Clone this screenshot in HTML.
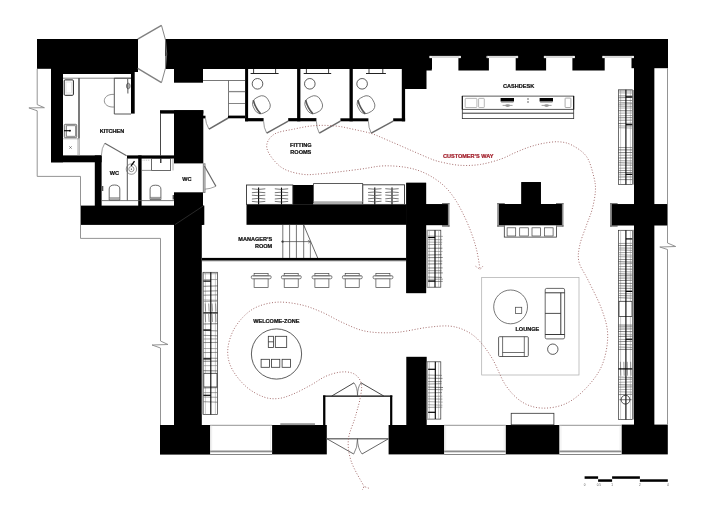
<!DOCTYPE html>
<html><head><meta charset="utf-8"><title>Floor plan</title>
<style>html,body{margin:0;padding:0;background:#fff;}svg{display:block;will-change:transform;}</style>
</head><body>
<svg width="727" height="514" viewBox="0 0 727 514">
<rect width="727" height="514" fill="#fff"/>
<g fill="#000">
<rect x="37.0" y="39.0" width="101.0" height="29.8" fill="#000" />
<rect x="51.0" y="39.0" width="80.0" height="35.0" fill="#000" />
<rect x="131.0" y="39.0" width="7.0" height="33.0" fill="#000" />
<rect x="51.0" y="39.0" width="12.0" height="123.3" fill="#000" />
<rect x="51.0" y="155.4" width="50.6" height="6.9" fill="#000" />
<rect x="94.8" y="155.4" width="6.8" height="50.6" fill="#000" />
<rect x="131.0" y="70.0" width="3.7" height="43.6" fill="#000" />
<rect x="165.5" y="39.0" width="502.5" height="17.0" fill="#000" />
<rect x="165.5" y="39.0" width="266.5" height="30.0" fill="#000" />
<rect x="174.0" y="68.0" width="29.0" height="14.7" fill="#000" />
<rect x="405.0" y="68.0" width="21.5" height="21.0" fill="#000" />
<rect x="426.0" y="55.0" width="5.8" height="15.5" fill="#000" />
<rect x="458.4" y="55.0" width="30.5" height="15.5" fill="#000" />
<rect x="515.7" y="55.0" width="30.4" height="15.5" fill="#000" />
<rect x="572.4" y="55.0" width="32.3" height="15.5" fill="#000" />
<rect x="631.5" y="39.0" width="36.5" height="29.2" fill="#000" />
<rect x="634.0" y="68.0" width="20.2" height="357.0" fill="#000" />
<rect x="611.8" y="204.2" width="55.4" height="21.1" fill="#000" />
<rect x="160.0" y="425.0" width="50.1" height="29.6" fill="#000" />
<rect x="272.1" y="425.0" width="54.7" height="29.4" fill="#000" />
<rect x="388.6" y="425.0" width="55.5" height="29.4" fill="#000" />
<rect x="505.8" y="425.0" width="53.5" height="29.4" fill="#000" />
<rect x="621.7" y="424.6" width="46.1" height="29.8" fill="#000" />
<rect x="160.0" y="110.2" width="43.3" height="3.4" fill="#000" />
<line x1="160.5" y1="113.0" x2="160.5" y2="155.5" stroke="#333" stroke-width="0.9" />
<rect x="174.0" y="110.2" width="29.3" height="53.2" fill="#000" />
<rect x="203.0" y="115.7" width="2.5" height="2.7" fill="#000" />
<rect x="174.0" y="192.3" width="29.0" height="32.7" fill="#000" />
<rect x="174.0" y="224.0" width="27.8" height="201.0" fill="#000" />
<rect x="80.8" y="205.6" width="123.5" height="19.3" fill="#000" />
<rect x="127.0" y="155.4" width="47.0" height="3.2" fill="#000" />
<rect x="138.2" y="155.4" width="3.4" height="50.6" fill="#000" />
<rect x="245.1" y="69.0" width="3.0" height="52.3" fill="#000" />
<rect x="297.1" y="69.0" width="3.3" height="52.3" fill="#000" />
<rect x="349.5" y="69.0" width="3.3" height="52.3" fill="#000" />
<rect x="401.8" y="69.0" width="3.3" height="52.3" fill="#000" />
<rect x="228.0" y="115.6" width="17.1" height="2.7" fill="#000" />
<rect x="245.1" y="118.1" width="18.5" height="3.2" fill="#000" />
<rect x="288.2" y="118.1" width="28.2" height="3.2" fill="#000" />
<rect x="340.4" y="118.3" width="28.0" height="3.0" fill="#000" />
<rect x="393.2" y="118.3" width="11.9" height="3.0" fill="#000" />
<rect x="246.5" y="204.3" width="160.2" height="20.5" fill="#000" />
<rect x="292.8" y="185.0" width="20.4" height="19.6" fill="#000" />
<rect x="202.0" y="257.9" width="204.5" height="2.7" fill="#000" />
<rect x="406.3" y="182.8" width="19.8" height="110.3" fill="#000" />
<rect x="426.0" y="204.2" width="21.8" height="20.9" fill="#000" />
<rect x="406.3" y="356.8" width="20.4" height="68.2" fill="#000" />
<rect x="521.4" y="182.1" width="19.4" height="42.9" fill="#000" />
<rect x="499.0" y="204.0" width="62.8" height="21.0" fill="#000" />
</g>
<line x1="175.0" y1="224.6" x2="203.8" y2="205.6" stroke="#444" stroke-width="0.6" />
<rect x="429.6" y="55.9" width="31.2" height="2.2" fill="#fff" />
<line x1="431.8" y1="57.0" x2="458.4" y2="57.0" stroke="#aaa" stroke-width="0.9" />
<rect x="429.8" y="56.1" width="1.9" height="1.8" fill="#fff" stroke="#bbb" stroke-width="0.3"/>
<rect x="458.7" y="56.1" width="1.9" height="1.8" fill="#fff" stroke="#bbb" stroke-width="0.3"/>
<rect x="486.7" y="55.9" width="31.4" height="2.2" fill="#fff" />
<line x1="488.9" y1="57.0" x2="515.7" y2="57.0" stroke="#aaa" stroke-width="0.9" />
<rect x="486.9" y="56.1" width="1.9" height="1.8" fill="#fff" stroke="#bbb" stroke-width="0.3"/>
<rect x="516.0" y="56.1" width="1.9" height="1.8" fill="#fff" stroke="#bbb" stroke-width="0.3"/>
<rect x="543.9" y="55.9" width="30.9" height="2.2" fill="#fff" />
<line x1="546.1" y1="57.0" x2="572.4" y2="57.0" stroke="#aaa" stroke-width="0.9" />
<rect x="544.1" y="56.1" width="1.9" height="1.8" fill="#fff" stroke="#bbb" stroke-width="0.3"/>
<rect x="572.7" y="56.1" width="1.9" height="1.8" fill="#fff" stroke="#bbb" stroke-width="0.3"/>
<rect x="602.5" y="55.9" width="31.4" height="2.2" fill="#fff" />
<line x1="604.7" y1="57.0" x2="631.5" y2="57.0" stroke="#aaa" stroke-width="0.9" />
<rect x="602.7" y="56.1" width="1.9" height="1.8" fill="#fff" stroke="#bbb" stroke-width="0.3"/>
<rect x="631.8" y="56.1" width="1.9" height="1.8" fill="#fff" stroke="#bbb" stroke-width="0.3"/>
<line x1="210.1" y1="425.3" x2="272.1" y2="425.3" stroke="#888" stroke-width="0.9" />
<rect x="210.1" y="450.5" width="62.0" height="1.8" fill="#8c8c8c" />
<line x1="210.1" y1="454.5" x2="272.1" y2="454.5" stroke="#777" stroke-width="0.9" />
<line x1="211.7" y1="425.3" x2="211.7" y2="450.4" stroke="#ddd" stroke-width="0.5" />
<line x1="270.5" y1="425.3" x2="270.5" y2="450.4" stroke="#ddd" stroke-width="0.5" />
<line x1="444.1" y1="425.3" x2="505.8" y2="425.3" stroke="#888" stroke-width="0.9" />
<rect x="444.1" y="450.5" width="61.7" height="1.8" fill="#8c8c8c" />
<line x1="444.1" y1="454.5" x2="505.8" y2="454.5" stroke="#777" stroke-width="0.9" />
<line x1="445.7" y1="425.3" x2="445.7" y2="450.4" stroke="#ddd" stroke-width="0.5" />
<line x1="504.2" y1="425.3" x2="504.2" y2="450.4" stroke="#ddd" stroke-width="0.5" />
<line x1="559.3" y1="425.3" x2="621.7" y2="425.3" stroke="#888" stroke-width="0.9" />
<rect x="559.3" y="450.5" width="62.4" height="1.8" fill="#8c8c8c" />
<line x1="559.3" y1="454.5" x2="621.7" y2="454.5" stroke="#777" stroke-width="0.9" />
<line x1="560.9" y1="425.3" x2="560.9" y2="450.4" stroke="#ddd" stroke-width="0.5" />
<line x1="620.1" y1="425.3" x2="620.1" y2="450.4" stroke="#ddd" stroke-width="0.5" />
<g fill="none" stroke="#888" stroke-width="0.9">
<path d="M37.2,68.8 V104.6 L44.4,107.7 L28.9,107.9 L37.2,110.8 V176.4 H80.5 V238.4 H160.5 V341 L168,344.5 L152,345 L160.5,348 V425"/>
<path d="M667.5,68.2 V243 L675.7,246.5 L659.8,247 L667.5,249.5 V424.6"/>
</g>
<g fill="none" stroke="#333" stroke-width="0.8">
<line x1="63.0" y1="78.2" x2="131.0" y2="78.2" stroke="#777" stroke-width="0.9" />
<line x1="79.0" y1="78.2" x2="79.0" y2="138.4" stroke="#222" stroke-width="1.2" />
<line x1="78.0" y1="138.4" x2="78.0" y2="155.4" stroke="#888" stroke-width="0.7" />
<line x1="79.3" y1="138.4" x2="79.3" y2="155.4" stroke="#888" stroke-width="0.7" />
<rect x="64.2" y="79.9" width="9.2" height="15.4" rx="1" stroke="#222" stroke-width="1"/>
<rect x="66" y="82" width="5.5" height="11" stroke="#ccc" stroke-width="0.5"/>
<rect x="64.3" y="124.3" width="12.4" height="13.4" rx="1" stroke="#555" stroke-width="0.8" fill="#ddd"/>
<rect x="66.6" y="125.8" width="8.9" height="10.4" stroke="#555" stroke-width="0.6" fill="#fff"/>
<line x1="64.0" y1="130.7" x2="70.0" y2="130.7" stroke="#000" stroke-width="1.1" />
<circle cx="70" cy="130.7" r="0.9" fill="#000" stroke="none"/>
<line x1="63.2" y1="138.8" x2="79.0" y2="138.8" stroke="#888" stroke-width="0.6" />
<line x1="69.3" y1="146.3" x2="71.7" y2="148.7" stroke="#444" stroke-width="0.6" />
<line x1="71.7" y1="146.3" x2="69.3" y2="148.7" stroke="#444" stroke-width="0.6" />
<path d="M131,78.2 H114.3 V114 H131" stroke="#444" stroke-width="0.9"/>
<path d="M114.3,94.4 C101,93.5 101,108 114.3,107" stroke="#777" stroke-width="0.8"/>
<ellipse cx="128.3" cy="86" rx="1.8" ry="2.8" stroke="#555" stroke-width="0.8" fill="#ccc"/>
<line x1="127.7" y1="79.0" x2="127.9" y2="93.5" stroke="#444" stroke-width="0.9" />
</g>
<g fill="none" stroke="#666" stroke-width="1.1">
<path d="M126.6,155.7 L104.8,143.2"/>
<path d="M104.8,143.2 Q101.5,148 101.4,155.5" stroke="#777" stroke-width="0.7"/>
</g>
<line x1="127.3" y1="158.0" x2="127.3" y2="200.5" stroke="#444" stroke-width="0.9" />
<circle cx="131.4" cy="169.1" r="5.2" fill="none" stroke="#666" stroke-width="0.7"/>
<circle cx="131.4" cy="169.1" r="2.6" fill="none" stroke="#666" stroke-width="0.7"/>
<circle cx="131.4" cy="169.1" r="0.7" fill="#333"/>
<line x1="131.1" y1="165.9" x2="134.5" y2="161.2" stroke="#000" stroke-width="1.3" />
<line x1="101.6" y1="200.6" x2="174.0" y2="200.6" stroke="#555" stroke-width="0.8" />
<rect x="101.6" y="186.0" width="1.7" height="5.0" fill="#555" />
<path d="M109.2,200.0 V189.0 Q109.2,185.0 114.5,185.0 Q119.8,185.0 119.8,189.0 V200.0 Z" fill="#fff" stroke="#444" stroke-width="0.8"/>
<line x1="109.2" y1="197.8" x2="119.8" y2="197.8" stroke="#666" stroke-width="0.7" />
<line x1="109.7" y1="198.9" x2="119.3" y2="198.9" stroke="#999" stroke-width="1.2" />
<path d="M150.1,199.6 V189.2 Q150.1,185.2 155.5,185.2 Q160.9,185.2 160.9,189.2 V199.6 Z" fill="#fff" stroke="#444" stroke-width="0.8"/>
<line x1="150.1" y1="197.4" x2="160.9" y2="197.4" stroke="#666" stroke-width="0.7" />
<line x1="150.6" y1="198.5" x2="160.4" y2="198.5" stroke="#999" stroke-width="1.2" />
<g fill="none" stroke="#444" stroke-width="0.8">
<rect x="151.6" y="158.6" width="19" height="11.8"/>
<line x1="141.6" y1="170.4" x2="151.6" y2="170.4" stroke="#666" stroke-width="0.7" />
<line x1="173.0" y1="158.6" x2="173.0" y2="170.4" stroke="#999" stroke-width="0.8" />
<line x1="160.8" y1="158.6" x2="160.8" y2="163.0" stroke="#000" stroke-width="1.1" />
<line x1="142.5" y1="160.2" x2="150.0" y2="160.2" stroke="#999" stroke-width="0.6" stroke-dasharray="1,0.8"/>
</g>
<rect x="172.6" y="195.0" width="1.4" height="4.5" fill="#555" />
<g fill="none" stroke="#777" stroke-width="0.9">
<rect x="203.3" y="163.8" width="1.7" height="28.6" fill="#ddd" />
<path d="M204.4,166 L215.9,186.3" stroke="#666" stroke-width="1.2"/>
<path d="M215.9,186.3 Q210,189 204.8,189.2" stroke="#777" stroke-width="0.7"/>
</g>
<g fill="none" stroke="#808080" stroke-width="1.4">
<path d="M137.7,39.1 L161.5,25.4"/>
<path d="M137.7,68.4 L161.5,82.6"/>
<path d="M161.5,25.4 A83,83 0 0 1 161.5,82.6" stroke-width="0.9" stroke="#777"/>
</g>
<g fill="none" stroke="#555" stroke-width="0.8">
<line x1="203.0" y1="80.5" x2="245.1" y2="80.5" stroke="#555" stroke-width="0.8" />
<line x1="228.5" y1="80.5" x2="228.5" y2="116.0" stroke="#555" stroke-width="0.8" />
<line x1="228.5" y1="91.6" x2="245.1" y2="91.6" stroke="#888" stroke-width="1.3" />
<line x1="228.5" y1="103.5" x2="245.1" y2="103.5" stroke="#666" stroke-width="0.8" />
</g>
<g fill="none" stroke="#6a6a6a" stroke-width="1.5">
<path d="M228.2,118 L209,129.2"/>
<path d="M209,129.2 Q205.5,123 205.5,118.4" stroke-width="0.7"/>
</g>
<line x1="250.6" y1="73.5" x2="278.6" y2="73.5" stroke="#222" stroke-width="1.0" />
<line x1="253.6" y1="69.0" x2="253.6" y2="73.5" stroke="#222" stroke-width="0.9" />
<line x1="275.6" y1="69.0" x2="275.6" y2="73.5" stroke="#222" stroke-width="0.9" />
<circle cx="257.5" cy="83.8" r="5.3" fill="none" stroke="#333" stroke-width="0.8"/>
<g transform="translate(261.4,104.7) rotate(-28)" fill="none" stroke="#555" stroke-width="0.7">
<rect x="-8.2" y="-8.4" width="16.4" height="16.8" rx="6.5"/>
<path d="M-5.0,-7.8 Q-7.0,0 -5.0,7.8" stroke="#555" stroke-width="1.7"/>
</g>
<line x1="303.7" y1="73.5" x2="331.2" y2="73.5" stroke="#222" stroke-width="1.0" />
<line x1="306.4" y1="69.0" x2="306.4" y2="73.5" stroke="#222" stroke-width="0.9" />
<line x1="328.6" y1="69.0" x2="328.6" y2="73.5" stroke="#222" stroke-width="0.9" />
<circle cx="309.8" cy="83.8" r="5.3" fill="none" stroke="#333" stroke-width="0.8"/>
<g transform="translate(313.7,104.7) rotate(-28)" fill="none" stroke="#555" stroke-width="0.7">
<rect x="-8.2" y="-8.4" width="16.4" height="16.8" rx="6.5"/>
<path d="M-5.0,-7.8 Q-7.0,0 -5.0,7.8" stroke="#555" stroke-width="1.7"/>
</g>
<line x1="366.0" y1="73.5" x2="385.9" y2="73.5" stroke="#222" stroke-width="1.0" />
<line x1="369.0" y1="69.0" x2="369.0" y2="73.5" stroke="#222" stroke-width="0.9" />
<line x1="382.8" y1="69.0" x2="382.8" y2="73.5" stroke="#222" stroke-width="0.9" />
<circle cx="362.1" cy="83.8" r="5.3" fill="none" stroke="#333" stroke-width="0.8"/>
<g transform="translate(366.0,104.7) rotate(-28)" fill="none" stroke="#555" stroke-width="0.7">
<rect x="-8.2" y="-8.4" width="16.4" height="16.8" rx="6.5"/>
<path d="M-5.0,-7.8 Q-7.0,0 -5.0,7.8" stroke="#555" stroke-width="1.7"/>
</g>
<g fill="none" stroke="#6a6a6a" stroke-width="1.5">
<path d="M288.2,121.2 L266.7,133.2"/>
<path d="M266.7,133.2 Q263.6,127.5 263.6,121.3" stroke-width="0.7"/>
<path d="M340.4,121.2 L319.3,133.2"/>
<path d="M319.3,133.2 Q316.4,127.5 316.4,121.3" stroke-width="0.7"/>
<path d="M393.2,121.2 L371.2,133.2"/>
<path d="M371.2,133.2 Q368.4,127.5 368.4,121.3" stroke-width="0.7"/>
</g>
<g fill="none">
<rect x="462.3" y="96.1" width="111.4" height="22.5" stroke="#333" stroke-width="0.8" fill="#fff"/>
<line x1="462.3" y1="109.4" x2="573.7" y2="109.4" stroke="#444" stroke-width="0.9" />
<line x1="462.3" y1="113.2" x2="573.7" y2="113.2" stroke="#333" stroke-width="1.0" />
<line x1="462.3" y1="96.1" x2="462.3" y2="109.4" stroke="#111" stroke-width="1.1" />
<line x1="573.7" y1="96.1" x2="573.7" y2="109.4" stroke="#111" stroke-width="1.1" />
<rect x="465.2" y="98.4" width="11.7" height="9.1" rx="0.6" stroke="#999" stroke-width="0.7"/>
<rect x="478.6" y="98.4" width="5.7" height="9.1" rx="0.6" stroke="#999" stroke-width="0.7"/>
<rect x="565.1" y="98.1" width="5.8" height="9.4" rx="0.6" stroke="#888" stroke-width="0.7"/>
<rect x="500.6" y="98.0" width="13.4" height="3.5" fill="#000" />
<rect x="501.2" y="101.5" width="12.2" height="1.1" fill="#888" />
<line x1="502.6" y1="105.4" x2="512.6" y2="105.4" stroke="#777" stroke-width="0.7" />
<ellipse cx="507.6" cy="105.6" rx="2.4" ry="1.3" fill="#999"/>
<rect x="539.6" y="98.0" width="13.4" height="3.5" fill="#000" />
<rect x="540.2" y="101.5" width="12.2" height="1.1" fill="#888" />
<line x1="541.6" y1="105.4" x2="551.6" y2="105.4" stroke="#777" stroke-width="0.7" />
<ellipse cx="546.6" cy="105.6" rx="2.4" ry="1.3" fill="#999"/>
<circle cx="528" cy="99" r="0.8" fill="#555"/><circle cx="528" cy="102" r="0.8" fill="#555"/>
</g>
<rect x="203.2" y="272.3" width="14.4" height="142.1" fill="#fff" stroke="#333" stroke-width="0.7"/>
<line x1="205.4" y1="272.3" x2="205.4" y2="414.4" stroke="#999" stroke-width="0.5" />
<line x1="215.4" y1="272.3" x2="215.4" y2="414.4" stroke="#999" stroke-width="0.5" />
<line x1="203.2" y1="273.8" x2="217.6" y2="273.7" stroke="#777" stroke-width="0.6" />
<line x1="203.2" y1="279.6" x2="217.6" y2="279.5" stroke="#777" stroke-width="0.6" />
<line x1="203.2" y1="286.3" x2="217.6" y2="285.9" stroke="#333" stroke-width="0.6" />
<line x1="203.2" y1="291.2" x2="217.6" y2="290.8" stroke="#444" stroke-width="0.6" />
<line x1="203.2" y1="295.2" x2="217.6" y2="294.9" stroke="#444" stroke-width="0.6" />
<line x1="203.2" y1="300.0" x2="217.6" y2="300.3" stroke="#666" stroke-width="0.6" />
<line x1="203.2" y1="301.6" x2="217.6" y2="301.2" stroke="#777" stroke-width="0.6" />
<line x1="203.2" y1="324.0" x2="217.6" y2="323.7" stroke="#333" stroke-width="0.6" />
<line x1="203.2" y1="330.4" x2="217.6" y2="330.9" stroke="#444" stroke-width="0.6" />
<line x1="203.2" y1="335.3" x2="217.6" y2="335.8" stroke="#444" stroke-width="0.6" />
<line x1="203.2" y1="339.0" x2="217.6" y2="338.9" stroke="#666" stroke-width="0.6" />
<line x1="203.2" y1="342.6" x2="217.6" y2="342.4" stroke="#444" stroke-width="0.6" />
<line x1="203.2" y1="348.5" x2="217.6" y2="348.6" stroke="#777" stroke-width="0.6" />
<line x1="203.2" y1="352.6" x2="217.6" y2="352.4" stroke="#555" stroke-width="0.6" />
<line x1="203.2" y1="358.1" x2="217.6" y2="358.3" stroke="#444" stroke-width="0.6" />
<line x1="203.2" y1="361.3" x2="217.6" y2="361.1" stroke="#333" stroke-width="0.6" />
<line x1="203.2" y1="365.7" x2="217.6" y2="365.6" stroke="#777" stroke-width="0.6" />
<line x1="203.2" y1="370.7" x2="217.6" y2="370.9" stroke="#333" stroke-width="0.6" />
<line x1="203.2" y1="388.0" x2="217.6" y2="387.7" stroke="#444" stroke-width="0.6" />
<line x1="203.2" y1="392.7" x2="217.6" y2="392.6" stroke="#666" stroke-width="0.6" />
<line x1="203.2" y1="397.0" x2="217.6" y2="397.3" stroke="#666" stroke-width="0.6" />
<line x1="203.2" y1="401.7" x2="217.6" y2="402.2" stroke="#555" stroke-width="0.6" />
<rect x="203.8" y="373.3" width="13.2" height="13.7" fill="#fff" stroke="#333" stroke-width="0.8"/>
<line x1="205.2" y1="303.5" x2="205.6" y2="311.5" stroke="#555" stroke-width="0.6" />
<line x1="208.7" y1="303.5" x2="209.1" y2="311.5" stroke="#555" stroke-width="0.6" />
<line x1="212.1" y1="303.5" x2="212.5" y2="311.5" stroke="#555" stroke-width="0.6" />
<line x1="215.6" y1="303.5" x2="216.0" y2="311.5" stroke="#555" stroke-width="0.6" />
<line x1="205.2" y1="314.0" x2="205.6" y2="322.0" stroke="#555" stroke-width="0.6" />
<line x1="208.7" y1="314.0" x2="209.1" y2="322.0" stroke="#555" stroke-width="0.6" />
<line x1="212.1" y1="314.0" x2="212.5" y2="322.0" stroke="#555" stroke-width="0.6" />
<line x1="215.6" y1="314.0" x2="216.0" y2="322.0" stroke="#555" stroke-width="0.6" />
<line x1="210.8" y1="272.3" x2="210.8" y2="414.4" stroke="#000" stroke-width="1.1" />
<line x1="203.2" y1="281.1" x2="210.8" y2="281.1" stroke="#000" stroke-width="1.2" />
<line x1="203.2" y1="312.9" x2="217.6" y2="312.9" stroke="#000" stroke-width="1.2" />
<line x1="203.2" y1="330.0" x2="210.8" y2="330.0" stroke="#000" stroke-width="1.2" />
<line x1="203.2" y1="358.9" x2="210.8" y2="358.9" stroke="#000" stroke-width="1.2" />
<line x1="203.2" y1="395.3" x2="210.8" y2="395.3" stroke="#000" stroke-width="1.2" />
<rect x="618.4" y="89.8" width="14.2" height="94.6" fill="#fff" stroke="#333" stroke-width="0.7"/>
<line x1="620.6" y1="89.8" x2="620.6" y2="184.4" stroke="#999" stroke-width="0.5" />
<line x1="630.4" y1="89.8" x2="630.4" y2="184.4" stroke="#999" stroke-width="0.5" />
<line x1="618.4" y1="91.0" x2="632.6" y2="90.9" stroke="#555" stroke-width="0.6" />
<line x1="618.4" y1="92.9" x2="632.6" y2="93.0" stroke="#777" stroke-width="0.6" />
<line x1="618.4" y1="95.9" x2="632.6" y2="95.9" stroke="#444" stroke-width="0.6" />
<line x1="618.4" y1="97.8" x2="632.6" y2="97.4" stroke="#333" stroke-width="0.6" />
<line x1="618.4" y1="100.4" x2="632.6" y2="100.5" stroke="#444" stroke-width="0.6" />
<line x1="618.4" y1="102.3" x2="632.6" y2="102.8" stroke="#777" stroke-width="0.6" />
<line x1="618.4" y1="104.2" x2="632.6" y2="103.8" stroke="#444" stroke-width="0.6" />
<line x1="618.4" y1="106.1" x2="632.6" y2="106.3" stroke="#555" stroke-width="0.6" />
<line x1="618.4" y1="108.1" x2="632.6" y2="108.0" stroke="#777" stroke-width="0.6" />
<line x1="618.4" y1="110.7" x2="632.6" y2="110.8" stroke="#333" stroke-width="0.6" />
<line x1="618.4" y1="113.2" x2="632.6" y2="113.0" stroke="#777" stroke-width="0.6" />
<line x1="618.4" y1="115.8" x2="632.6" y2="115.5" stroke="#666" stroke-width="0.6" />
<line x1="618.4" y1="117.8" x2="632.6" y2="117.6" stroke="#444" stroke-width="0.6" />
<line x1="618.4" y1="120.3" x2="632.6" y2="120.1" stroke="#555" stroke-width="0.6" />
<line x1="618.4" y1="123.5" x2="632.6" y2="123.2" stroke="#333" stroke-width="0.6" />
<line x1="618.4" y1="125.8" x2="632.6" y2="126.2" stroke="#666" stroke-width="0.6" />
<line x1="618.4" y1="127.7" x2="632.6" y2="128.1" stroke="#777" stroke-width="0.6" />
<line x1="618.4" y1="147.5" x2="632.6" y2="147.6" stroke="#555" stroke-width="0.6" />
<line x1="618.4" y1="149.9" x2="632.6" y2="149.9" stroke="#333" stroke-width="0.6" />
<line x1="618.4" y1="152.7" x2="632.6" y2="152.5" stroke="#333" stroke-width="0.6" />
<line x1="618.4" y1="155.3" x2="632.6" y2="155.2" stroke="#666" stroke-width="0.6" />
<line x1="618.4" y1="158.0" x2="632.6" y2="157.9" stroke="#333" stroke-width="0.6" />
<line x1="618.4" y1="160.7" x2="632.6" y2="160.9" stroke="#666" stroke-width="0.6" />
<line x1="618.4" y1="162.7" x2="632.6" y2="163.1" stroke="#444" stroke-width="0.6" />
<line x1="618.4" y1="165.1" x2="632.6" y2="165.2" stroke="#444" stroke-width="0.6" />
<line x1="618.4" y1="168.2" x2="632.6" y2="168.0" stroke="#666" stroke-width="0.6" />
<line x1="618.4" y1="170.6" x2="632.6" y2="170.4" stroke="#555" stroke-width="0.6" />
<line x1="618.4" y1="172.7" x2="632.6" y2="172.4" stroke="#333" stroke-width="0.6" />
<line x1="618.4" y1="174.8" x2="632.6" y2="174.5" stroke="#666" stroke-width="0.6" />
<line x1="618.4" y1="177.0" x2="632.6" y2="176.9" stroke="#444" stroke-width="0.6" />
<line x1="618.4" y1="179.6" x2="632.6" y2="179.6" stroke="#444" stroke-width="0.6" />
<line x1="625.9" y1="89.8" x2="625.9" y2="184.4" stroke="#000" stroke-width="1.1" />
<line x1="625.9" y1="96.9" x2="632.6" y2="96.9" stroke="#000" stroke-width="1.2" />
<line x1="625.9" y1="124.7" x2="632.6" y2="124.7" stroke="#000" stroke-width="1.2" />
<line x1="625.9" y1="174.3" x2="632.6" y2="174.3" stroke="#000" stroke-width="1.2" />
<rect x="618.4" y="230.3" width="14.2" height="189.2" fill="#fff" stroke="#333" stroke-width="0.7"/>
<line x1="620.6" y1="230.3" x2="620.6" y2="419.5" stroke="#999" stroke-width="0.5" />
<line x1="630.4" y1="230.3" x2="630.4" y2="419.5" stroke="#999" stroke-width="0.5" />
<line x1="618.4" y1="243.5" x2="632.6" y2="243.3" stroke="#666" stroke-width="0.6" />
<line x1="618.4" y1="245.6" x2="632.6" y2="245.5" stroke="#333" stroke-width="0.6" />
<line x1="618.4" y1="248.0" x2="632.6" y2="248.1" stroke="#555" stroke-width="0.6" />
<line x1="618.4" y1="249.9" x2="632.6" y2="250.4" stroke="#666" stroke-width="0.6" />
<line x1="618.4" y1="252.7" x2="632.6" y2="252.4" stroke="#666" stroke-width="0.6" />
<line x1="618.4" y1="254.7" x2="632.6" y2="255.2" stroke="#777" stroke-width="0.6" />
<line x1="618.4" y1="256.7" x2="632.6" y2="257.0" stroke="#666" stroke-width="0.6" />
<line x1="618.4" y1="259.4" x2="632.6" y2="259.6" stroke="#444" stroke-width="0.6" />
<line x1="618.4" y1="261.7" x2="632.6" y2="262.1" stroke="#333" stroke-width="0.6" />
<line x1="618.4" y1="263.9" x2="632.6" y2="263.6" stroke="#555" stroke-width="0.6" />
<line x1="618.4" y1="266.6" x2="632.6" y2="266.5" stroke="#666" stroke-width="0.6" />
<line x1="618.4" y1="269.0" x2="632.6" y2="269.2" stroke="#333" stroke-width="0.6" />
<line x1="618.4" y1="271.6" x2="632.6" y2="271.9" stroke="#777" stroke-width="0.6" />
<line x1="618.4" y1="273.7" x2="632.6" y2="274.1" stroke="#444" stroke-width="0.6" />
<line x1="618.4" y1="275.7" x2="632.6" y2="275.8" stroke="#333" stroke-width="0.6" />
<line x1="618.4" y1="278.1" x2="632.6" y2="278.0" stroke="#444" stroke-width="0.6" />
<line x1="618.4" y1="280.6" x2="632.6" y2="280.2" stroke="#333" stroke-width="0.6" />
<line x1="618.4" y1="283.3" x2="632.6" y2="283.4" stroke="#333" stroke-width="0.6" />
<line x1="618.4" y1="285.8" x2="632.6" y2="286.0" stroke="#444" stroke-width="0.6" />
<line x1="618.4" y1="288.2" x2="632.6" y2="288.4" stroke="#333" stroke-width="0.6" />
<line x1="618.4" y1="291.0" x2="632.6" y2="291.0" stroke="#444" stroke-width="0.6" />
<line x1="618.4" y1="293.5" x2="632.6" y2="293.8" stroke="#777" stroke-width="0.6" />
<line x1="618.4" y1="295.5" x2="632.6" y2="295.9" stroke="#555" stroke-width="0.6" />
<line x1="618.4" y1="297.7" x2="632.6" y2="298.2" stroke="#444" stroke-width="0.6" />
<line x1="618.4" y1="325.0" x2="632.6" y2="325.1" stroke="#333" stroke-width="0.6" />
<line x1="618.4" y1="326.9" x2="632.6" y2="326.8" stroke="#333" stroke-width="0.6" />
<line x1="618.4" y1="329.1" x2="632.6" y2="328.9" stroke="#333" stroke-width="0.6" />
<line x1="618.4" y1="331.5" x2="632.6" y2="331.7" stroke="#333" stroke-width="0.6" />
<line x1="618.4" y1="334.1" x2="632.6" y2="334.4" stroke="#666" stroke-width="0.6" />
<line x1="618.4" y1="336.5" x2="632.6" y2="336.2" stroke="#333" stroke-width="0.6" />
<line x1="618.4" y1="339.3" x2="632.6" y2="339.7" stroke="#666" stroke-width="0.6" />
<line x1="618.4" y1="341.7" x2="632.6" y2="341.3" stroke="#444" stroke-width="0.6" />
<line x1="618.4" y1="344.3" x2="632.6" y2="344.8" stroke="#555" stroke-width="0.6" />
<line x1="618.4" y1="347.0" x2="632.6" y2="347.4" stroke="#555" stroke-width="0.6" />
<line x1="618.4" y1="349.4" x2="632.6" y2="349.4" stroke="#333" stroke-width="0.6" />
<line x1="618.4" y1="377.0" x2="632.6" y2="377.5" stroke="#555" stroke-width="0.6" />
<line x1="618.4" y1="379.4" x2="632.6" y2="379.1" stroke="#444" stroke-width="0.6" />
<line x1="618.4" y1="382.3" x2="632.6" y2="381.9" stroke="#777" stroke-width="0.6" />
<line x1="618.4" y1="384.7" x2="632.6" y2="385.0" stroke="#444" stroke-width="0.6" />
<line x1="618.4" y1="387.1" x2="632.6" y2="386.9" stroke="#444" stroke-width="0.6" />
<line x1="618.4" y1="389.7" x2="632.6" y2="389.3" stroke="#777" stroke-width="0.6" />
<line x1="618.4" y1="391.8" x2="632.6" y2="392.1" stroke="#777" stroke-width="0.6" />
<line x1="618.4" y1="394.6" x2="632.6" y2="394.3" stroke="#444" stroke-width="0.6" />
<rect x="619.0" y="301.3" width="13.0" height="15.2" fill="#fff" stroke="#333" stroke-width="0.8"/>
<line x1="620.4" y1="361.8" x2="620.8" y2="375.7" stroke="#555" stroke-width="0.6" />
<line x1="623.8" y1="361.8" x2="624.2" y2="375.7" stroke="#555" stroke-width="0.6" />
<line x1="627.2" y1="361.8" x2="627.6" y2="375.7" stroke="#555" stroke-width="0.6" />
<line x1="630.6" y1="361.8" x2="631.0" y2="375.7" stroke="#555" stroke-width="0.6" />
<line x1="625.9" y1="230.3" x2="625.9" y2="419.5" stroke="#000" stroke-width="1.1" />
<line x1="625.9" y1="238.9" x2="632.6" y2="238.9" stroke="#000" stroke-width="1.2" />
<line x1="625.9" y1="291.4" x2="632.6" y2="291.4" stroke="#000" stroke-width="1.2" />
<line x1="625.9" y1="339.2" x2="632.6" y2="339.2" stroke="#000" stroke-width="1.2" />
<line x1="618.4" y1="368.9" x2="632.6" y2="368.9" stroke="#000" stroke-width="1.2" />
<circle cx="625.5" cy="399.7" r="4.4" fill="none" stroke="#222" stroke-width="0.8"/>
<line x1="619.4" y1="399.7" x2="631.6" y2="399.7" stroke="#222" stroke-width="0.6" />
<rect x="427.2" y="230.2" width="13.6" height="57.0" fill="#fff" stroke="#333" stroke-width="0.7"/>
<line x1="429.4" y1="230.2" x2="429.4" y2="287.2" stroke="#999" stroke-width="0.5" />
<line x1="438.6" y1="230.2" x2="438.6" y2="287.2" stroke="#999" stroke-width="0.5" />
<line x1="427.2" y1="236.0" x2="442.8" y2="236.4" stroke="#666" stroke-width="0.6" />
<line x1="427.2" y1="239.6" x2="442.2" y2="239.7" stroke="#666" stroke-width="0.6" />
<line x1="427.2" y1="242.1" x2="442.2" y2="242.3" stroke="#777" stroke-width="0.6" />
<line x1="427.2" y1="244.7" x2="441.9" y2="244.3" stroke="#666" stroke-width="0.6" />
<line x1="427.2" y1="248.3" x2="442.4" y2="248.2" stroke="#333" stroke-width="0.6" />
<line x1="427.2" y1="251.3" x2="442.5" y2="251.5" stroke="#777" stroke-width="0.6" />
<line x1="427.2" y1="255.0" x2="441.6" y2="254.7" stroke="#333" stroke-width="0.6" />
<line x1="427.2" y1="257.7" x2="442.7" y2="257.5" stroke="#333" stroke-width="0.6" />
<line x1="427.2" y1="260.9" x2="442.3" y2="261.1" stroke="#444" stroke-width="0.6" />
<line x1="427.2" y1="264.0" x2="442.2" y2="263.8" stroke="#333" stroke-width="0.6" />
<line x1="427.2" y1="268.0" x2="442.6" y2="267.9" stroke="#333" stroke-width="0.6" />
<line x1="427.2" y1="270.7" x2="441.5" y2="270.7" stroke="#555" stroke-width="0.6" />
<line x1="427.2" y1="273.0" x2="442.8" y2="272.9" stroke="#333" stroke-width="0.6" />
<line x1="427.2" y1="277.0" x2="441.8" y2="277.4" stroke="#333" stroke-width="0.6" />
<line x1="427.2" y1="279.3" x2="443.0" y2="279.2" stroke="#666" stroke-width="0.6" />
<line x1="427.2" y1="281.6" x2="442.7" y2="281.4" stroke="#444" stroke-width="0.6" />
<line x1="435.0" y1="230.2" x2="435.0" y2="287.2" stroke="#000" stroke-width="1.1" />
<line x1="427.2" y1="237.5" x2="435.0" y2="237.5" stroke="#000" stroke-width="1.2" />
<line x1="427.2" y1="281.0" x2="435.0" y2="281.0" stroke="#000" stroke-width="1.2" />
<rect x="427.2" y="361.8" width="13.6" height="57.3" fill="#fff" stroke="#333" stroke-width="0.7"/>
<line x1="429.4" y1="361.8" x2="429.4" y2="419.1" stroke="#999" stroke-width="0.5" />
<line x1="438.6" y1="361.8" x2="438.6" y2="419.1" stroke="#999" stroke-width="0.5" />
<line x1="427.2" y1="375.0" x2="441.9" y2="375.4" stroke="#555" stroke-width="0.6" />
<line x1="427.2" y1="378.2" x2="442.5" y2="378.4" stroke="#444" stroke-width="0.6" />
<line x1="427.2" y1="381.6" x2="441.7" y2="381.6" stroke="#444" stroke-width="0.6" />
<line x1="427.2" y1="384.1" x2="441.5" y2="383.7" stroke="#555" stroke-width="0.6" />
<line x1="427.2" y1="387.1" x2="443.0" y2="387.5" stroke="#333" stroke-width="0.6" />
<line x1="427.2" y1="389.5" x2="442.7" y2="389.7" stroke="#555" stroke-width="0.6" />
<line x1="427.2" y1="392.9" x2="442.0" y2="392.6" stroke="#555" stroke-width="0.6" />
<line x1="427.2" y1="396.3" x2="442.3" y2="396.2" stroke="#777" stroke-width="0.6" />
<line x1="427.2" y1="398.9" x2="442.4" y2="399.1" stroke="#666" stroke-width="0.6" />
<line x1="427.2" y1="401.6" x2="442.7" y2="402.1" stroke="#777" stroke-width="0.6" />
<line x1="427.2" y1="404.7" x2="442.4" y2="405.2" stroke="#777" stroke-width="0.6" />
<line x1="427.2" y1="407.4" x2="442.3" y2="407.2" stroke="#666" stroke-width="0.6" />
<line x1="435.3" y1="361.8" x2="435.3" y2="419.1" stroke="#000" stroke-width="1.1" />
<line x1="427.2" y1="369.3" x2="435.3" y2="369.3" stroke="#000" stroke-width="1.2" />
<line x1="427.2" y1="412.3" x2="435.3" y2="412.3" stroke="#000" stroke-width="1.2" />
<rect x="632.6" y="90.0" width="1.4" height="94.6" fill="#999" />
<rect x="632.6" y="229.8" width="1.4" height="189.7" fill="#999" />
<rect x="426.7" y="230.2" width="1.5" height="57.0" fill="#aaa" />
<rect x="426.7" y="362.3" width="1.5" height="57.2" fill="#aaa" />
<rect x="201.8" y="272.3" width="1.4" height="142.1" fill="#aaa" />
<rect x="246.5" y="185.0" width="46.3" height="19.4" fill="#fff" stroke="#333" stroke-width="0.9"/>
<line x1="258.6" y1="187.6" x2="258.6" y2="204.4" stroke="#000" stroke-width="1.1" />
<line x1="251.9" y1="188.8" x2="258.3" y2="189.4" stroke="#666" stroke-width="0.9" />
<line x1="258.9" y1="189.4" x2="265.3" y2="188.8" stroke="#666" stroke-width="0.9" />
<line x1="251.9" y1="192.7" x2="258.3" y2="192.2" stroke="#666" stroke-width="0.9" />
<line x1="258.9" y1="192.2" x2="265.3" y2="192.7" stroke="#666" stroke-width="0.9" />
<line x1="251.9" y1="195.2" x2="258.3" y2="195.7" stroke="#666" stroke-width="0.9" />
<line x1="258.9" y1="195.7" x2="265.3" y2="195.2" stroke="#666" stroke-width="0.9" />
<line x1="251.9" y1="199.0" x2="258.3" y2="198.4" stroke="#666" stroke-width="0.9" />
<line x1="258.9" y1="198.4" x2="265.3" y2="199.0" stroke="#666" stroke-width="0.9" />
<line x1="251.9" y1="201.4" x2="258.3" y2="202.0" stroke="#666" stroke-width="0.9" />
<line x1="258.9" y1="202.0" x2="265.3" y2="201.4" stroke="#666" stroke-width="0.9" />
<line x1="281.5" y1="187.6" x2="281.5" y2="204.4" stroke="#000" stroke-width="1.1" />
<line x1="274.8" y1="188.8" x2="281.2" y2="189.4" stroke="#666" stroke-width="0.9" />
<line x1="281.8" y1="189.4" x2="288.2" y2="188.8" stroke="#666" stroke-width="0.9" />
<line x1="274.8" y1="192.7" x2="281.2" y2="192.2" stroke="#666" stroke-width="0.9" />
<line x1="281.8" y1="192.2" x2="288.2" y2="192.7" stroke="#666" stroke-width="0.9" />
<line x1="274.8" y1="195.2" x2="281.2" y2="195.7" stroke="#666" stroke-width="0.9" />
<line x1="281.8" y1="195.7" x2="288.2" y2="195.2" stroke="#666" stroke-width="0.9" />
<line x1="274.8" y1="199.0" x2="281.2" y2="198.4" stroke="#666" stroke-width="0.9" />
<line x1="281.8" y1="198.4" x2="288.2" y2="199.0" stroke="#666" stroke-width="0.9" />
<line x1="274.8" y1="201.4" x2="281.2" y2="202.0" stroke="#666" stroke-width="0.9" />
<line x1="281.8" y1="202.0" x2="288.2" y2="201.4" stroke="#666" stroke-width="0.9" />
<rect x="362.7" y="184.8" width="41.8" height="19.6" fill="#fff" stroke="#333" stroke-width="0.9"/>
<line x1="374.8" y1="187.4" x2="374.8" y2="204.4" stroke="#000" stroke-width="1.1" />
<line x1="368.1" y1="188.7" x2="374.5" y2="189.2" stroke="#666" stroke-width="0.9" />
<line x1="375.1" y1="189.2" x2="381.5" y2="188.7" stroke="#666" stroke-width="0.9" />
<line x1="368.1" y1="192.5" x2="374.5" y2="192.0" stroke="#666" stroke-width="0.9" />
<line x1="375.1" y1="192.0" x2="381.5" y2="192.5" stroke="#666" stroke-width="0.9" />
<line x1="368.1" y1="195.0" x2="374.5" y2="195.5" stroke="#666" stroke-width="0.9" />
<line x1="375.1" y1="195.5" x2="381.5" y2="195.0" stroke="#666" stroke-width="0.9" />
<line x1="368.1" y1="198.8" x2="374.5" y2="198.2" stroke="#666" stroke-width="0.9" />
<line x1="375.1" y1="198.2" x2="381.5" y2="198.8" stroke="#666" stroke-width="0.9" />
<line x1="368.1" y1="201.2" x2="374.5" y2="201.8" stroke="#666" stroke-width="0.9" />
<line x1="375.1" y1="201.8" x2="381.5" y2="201.2" stroke="#666" stroke-width="0.9" />
<line x1="392.0" y1="187.4" x2="392.0" y2="204.4" stroke="#000" stroke-width="1.1" />
<line x1="385.3" y1="188.7" x2="391.7" y2="189.2" stroke="#666" stroke-width="0.9" />
<line x1="392.3" y1="189.2" x2="398.7" y2="188.7" stroke="#666" stroke-width="0.9" />
<line x1="385.3" y1="192.5" x2="391.7" y2="192.0" stroke="#666" stroke-width="0.9" />
<line x1="392.3" y1="192.0" x2="398.7" y2="192.5" stroke="#666" stroke-width="0.9" />
<line x1="385.3" y1="195.0" x2="391.7" y2="195.5" stroke="#666" stroke-width="0.9" />
<line x1="392.3" y1="195.5" x2="398.7" y2="195.0" stroke="#666" stroke-width="0.9" />
<line x1="385.3" y1="198.8" x2="391.7" y2="198.2" stroke="#666" stroke-width="0.9" />
<line x1="392.3" y1="198.2" x2="398.7" y2="198.8" stroke="#666" stroke-width="0.9" />
<line x1="385.3" y1="201.2" x2="391.7" y2="201.8" stroke="#666" stroke-width="0.9" />
<line x1="392.3" y1="201.8" x2="398.7" y2="201.2" stroke="#666" stroke-width="0.9" />
<rect x="313.6" y="183.6" width="49.1" height="19.4" fill="#fff" stroke="#333" stroke-width="0.8"/>
<line x1="313.6" y1="201.5" x2="362.7" y2="201.5" stroke="#999" stroke-width="0.6" />
<g stroke="#555" stroke-width="0.9" fill="none">
<line x1="282.8" y1="225.0" x2="282.8" y2="258.0" stroke="#666" stroke-width="0.9" />
<line x1="289.6" y1="225.0" x2="289.6" y2="258.0" stroke="#666" stroke-width="0.9" />
<line x1="296.4" y1="225.0" x2="296.4" y2="258.0" stroke="#666" stroke-width="0.9" />
<line x1="303.7" y1="225.0" x2="303.7" y2="258.0" stroke="#666" stroke-width="0.9" />
<line x1="310.4" y1="241.6" x2="310.4" y2="258.0" stroke="#666" stroke-width="0.8" />
<line x1="303.7" y1="225.0" x2="317.7" y2="258.0" stroke="#444" stroke-width="0.8" />
<line x1="282.6" y1="241.6" x2="310.0" y2="241.6" stroke="#444" stroke-width="0.7" />
<circle cx="282.6" cy="241.6" r="0.9" fill="#333"/>
<path d="M307.8,240.2 L310.4,241.6 L308.2,243.2" stroke="#444" stroke-width="0.6"/>
</g>
<line x1="202.0" y1="261.2" x2="406.3" y2="261.2" stroke="#aaa" stroke-width="0.6" />
<g fill="#fff" stroke="#444" stroke-width="0.7"><rect x="254.1" y="273.4" width="14" height="2.3"/><rect x="254.1" y="278.6" width="14" height="8.8"/><rect x="251.3" y="275.6" width="19.8" height="3.2" rx="1.3" stroke="#666" stroke-width="0.9"/><line x1="252.5" y1="276.4" x2="269.9" y2="276.4" stroke="#aaa" stroke-width="0.8"/></g>
<g fill="#fff" stroke="#444" stroke-width="0.7"><rect x="284.2" y="273.4" width="14" height="2.3"/><rect x="284.2" y="278.6" width="14" height="8.8"/><rect x="281.4" y="275.6" width="19.8" height="3.2" rx="1.3" stroke="#666" stroke-width="0.9"/><line x1="282.6" y1="276.4" x2="300.0" y2="276.4" stroke="#aaa" stroke-width="0.8"/></g>
<g fill="#fff" stroke="#444" stroke-width="0.7"><rect x="314.9" y="273.4" width="14" height="2.3"/><rect x="314.9" y="278.6" width="14" height="8.8"/><rect x="312.1" y="275.6" width="19.8" height="3.2" rx="1.3" stroke="#666" stroke-width="0.9"/><line x1="313.3" y1="276.4" x2="330.7" y2="276.4" stroke="#aaa" stroke-width="0.8"/></g>
<g fill="#fff" stroke="#444" stroke-width="0.7"><rect x="345.2" y="273.4" width="14" height="2.3"/><rect x="345.2" y="278.6" width="14" height="8.8"/><rect x="342.4" y="275.6" width="19.8" height="3.2" rx="1.3" stroke="#666" stroke-width="0.9"/><line x1="343.6" y1="276.4" x2="361.0" y2="276.4" stroke="#aaa" stroke-width="0.8"/></g>
<g fill="#fff" stroke="#444" stroke-width="0.7"><rect x="375.9" y="273.4" width="14" height="2.3"/><rect x="375.9" y="278.6" width="14" height="8.8"/><rect x="373.1" y="275.6" width="19.8" height="3.2" rx="1.3" stroke="#666" stroke-width="0.9"/><line x1="374.3" y1="276.4" x2="391.7" y2="276.4" stroke="#aaa" stroke-width="0.8"/></g>
<g fill="none" stroke="#333" stroke-width="0.8">
<circle cx="276.5" cy="354" r="25.1"/>
<rect x="268.3" y="336.3" width="5.2" height="11.2"/>
<line x1="268.3" y1="341.8" x2="273.5" y2="341.8" stroke="#333" stroke-width="0.8" />
<rect x="275.3" y="336.3" width="11.4" height="11.2"/>
<rect x="261.1" y="359.3" width="8.4" height="8"/>
<rect x="271.4" y="359.3" width="8.4" height="8"/>
<rect x="282.1" y="359.3" width="8.4" height="8"/>
</g>
<rect x="504.3" y="225" width="52.3" height="12.1" fill="#fff" stroke="#333" stroke-width="0.8"/>
<rect x="507.1" y="227.8" width="8.6" height="8.2" fill="#fff" stroke="#444" stroke-width="0.7"/>
<rect x="519.7" y="227.8" width="8.6" height="8.2" fill="#fff" stroke="#444" stroke-width="0.7"/>
<rect x="532.0" y="227.8" width="8.6" height="8.2" fill="#fff" stroke="#444" stroke-width="0.7"/>
<rect x="544.5" y="227.8" width="8.6" height="8.2" fill="#fff" stroke="#444" stroke-width="0.7"/>
<rect x="447.8" y="203.0" width="1.7" height="23.7" fill="#8a8a8a" />
<rect x="442.0" y="203.0" width="7.5" height="1.3" fill="#777" />
<rect x="442.0" y="225.1" width="7.5" height="1.6" fill="#777" />
<rect x="561.8" y="203.0" width="1.7" height="23.7" fill="#8a8a8a" />
<rect x="556.0" y="203.0" width="7.5" height="1.3" fill="#777" />
<rect x="556.0" y="225.1" width="7.5" height="1.6" fill="#777" />
<rect x="497.2" y="203.0" width="1.8" height="23.7" fill="#8a8a8a" />
<rect x="497.2" y="203.0" width="7.6" height="1.3" fill="#777" />
<rect x="497.2" y="225.1" width="7.6" height="1.6" fill="#777" />
<rect x="610.0" y="203.0" width="1.8" height="23.7" fill="#8a8a8a" />
<rect x="610.0" y="203.0" width="7.6" height="1.3" fill="#777" />
<rect x="610.0" y="225.1" width="7.6" height="1.6" fill="#777" />
<rect x="426.0" y="204.2" width="21.8" height="20.9" fill="#000" />
<rect x="499.0" y="204.0" width="62.8" height="21.0" fill="#000" />
<rect x="611.8" y="204.2" width="55.4" height="21.1" fill="#000" />
<rect x="521.4" y="182.1" width="19.4" height="42.9" fill="#000" />
<rect x="406.3" y="182.8" width="19.8" height="110.3" fill="#000" />
<rect x="634.0" y="68.0" width="20.2" height="357.0" fill="#000" />
<g fill="none" stroke="#333" stroke-width="0.8">
<rect x="481.7" y="277.5" width="97.3" height="97.5" stroke="#aaa" stroke-width="0.7"/>
<circle cx="510.6" cy="306.9" r="16.9" stroke="#555"/>
<rect x="515.4" y="307.3" width="6.3" height="6.2" stroke-width="0.8" stroke="#555"/>
<rect x="545.2" y="288.4" width="19.4" height="50.5" rx="1.5" stroke="#444"/>
<line x1="545.2" y1="292.8" x2="564.6" y2="292.8" stroke="#222" stroke-width="0.9" />
<line x1="545.2" y1="334.5" x2="564.6" y2="334.5" stroke="#222" stroke-width="0.9" />
<line x1="560.8" y1="292.8" x2="560.8" y2="334.5" stroke="#222" stroke-width="0.9" />
<line x1="545.2" y1="313.4" x2="560.8" y2="313.4" stroke="#222" stroke-width="0.8" />
<rect x="498.6" y="336.7" width="29.7" height="19.8" rx="1"/>
<line x1="502.6" y1="336.7" x2="502.6" y2="356.5" stroke="#333" stroke-width="0.7" />
<line x1="524.3" y1="336.7" x2="524.3" y2="356.5" stroke="#333" stroke-width="0.7" />
<line x1="502.6" y1="352.5" x2="524.3" y2="352.5" stroke="#333" stroke-width="0.7" />
<circle cx="552.8" cy="349.2" r="5.2"/>
</g>
<rect x="511.2" y="413.3" width="42.7" height="11.5" fill="#fff" stroke="#333" stroke-width="0.8"/>
<rect x="280.3" y="423.2" width="34.7" height="1.9" fill="#999"/>
<g fill="none">
<rect x="323.1" y="395.4" width="2.3" height="29.6" fill="#000" />
<rect x="390.1" y="395.4" width="2.2" height="29.6" fill="#000" />
<line x1="323.1" y1="396.1" x2="392.3" y2="396.1" stroke="#000" stroke-width="1.1" />
<path d="M331.6,396.1 L354,382.8 M383.9,396.1 L361,382.8" stroke="#333" stroke-width="0.9"/>
<path d="M354,382.8 Q357.5,387 357.5,396.1 M361,382.8 Q357.5,387 357.5,396.1" stroke="#555" stroke-width="0.7"/>
<line x1="326.8" y1="438.7" x2="388.6" y2="438.7" stroke="#777" stroke-width="1.4" />
<path d="M326.8,438.7 L353.7,454 M388.6,438.7 L362,454" stroke="#555" stroke-width="0.9"/>
<path d="M353.7,454 Q357.5,448 357.5,438.7 M362,454 Q357.5,448 357.5,438.7" stroke="#555" stroke-width="0.7"/>
</g>
<path d="M364.1,486.5 C362.0,482.4 353.9,469.4 351.3,461.6 C348.7,453.9 347.8,446.9 348.3,440.0 C348.8,433.1 352.8,425.0 354.3,420.0 C355.8,415.0 356.2,413.7 357.2,410.1 C358.2,406.5 359.4,402.4 360.1,398.5 C360.8,394.6 361.8,390.2 361.6,386.8 C361.4,383.4 360.4,380.3 358.7,378.0 C357.0,375.7 354.6,373.8 351.4,372.8 C348.2,371.8 344.1,371.6 339.7,372.2 C335.3,372.8 330.0,374.4 325.1,376.6 C320.2,378.8 315.9,382.4 310.5,385.3 C305.1,388.2 298.4,391.9 293.0,394.1 C287.6,396.3 283.3,398.0 278.4,398.5 C273.5,399.0 269.1,398.9 263.8,397.0 C258.5,395.1 251.6,391.4 246.3,386.8 C241.0,382.2 235.3,375.1 232.2,369.3 C229.1,363.5 227.7,357.9 227.7,351.8 C227.7,345.7 229.6,338.7 232.2,332.8 C234.8,326.9 239.1,321.1 243.4,316.7 C247.7,312.3 252.2,308.9 258.0,306.5 C263.8,304.1 271.1,302.4 278.4,302.1 C285.7,301.9 294.5,303.3 301.8,305.0 C309.1,306.7 315.4,309.4 322.2,312.3 C329.0,315.2 335.3,319.4 342.6,322.6 C349.9,325.8 357.3,329.7 366.0,331.3 C374.7,332.9 384.9,333.1 395.0,332.5 C405.1,331.9 417.4,328.6 426.5,327.5 C435.6,326.4 443.0,325.5 449.6,326.1 C456.2,326.7 461.2,328.5 466.2,331.0 C471.2,333.5 475.0,336.3 479.4,341.0 C483.8,345.7 488.2,351.8 492.6,359.2 C497.0,366.6 500.9,378.4 505.9,385.6 C510.9,392.8 516.3,398.4 522.4,402.2 C528.5,405.9 535.0,407.8 542.2,408.1 C549.4,408.4 558.2,407.0 565.4,403.8 C572.6,400.6 579.1,395.3 585.2,389.0 C591.3,382.7 598.0,374.6 601.8,365.8 C605.5,357.0 607.7,345.4 607.7,336.0 C607.7,326.6 605.1,318.8 601.8,309.5 C598.5,300.2 591.8,287.9 588.0,280.0 C584.2,272.1 580.4,267.8 579.0,262.0 C577.6,256.2 578.5,251.6 579.7,245.5 C580.9,239.4 584.2,231.8 586.3,225.7 C588.4,219.6 590.7,215.0 592.2,209.2 C593.7,203.4 595.1,196.4 595.4,191.0 C595.7,185.6 595.2,182.4 593.8,176.7 C592.3,171.0 590.3,162.1 586.7,156.8 C583.1,151.6 576.7,147.7 572.0,145.2 C567.3,142.7 563.6,142.1 558.7,141.8 C553.8,141.5 547.5,142.6 542.5,143.5 C537.5,144.4 533.4,145.7 528.8,147.2 C524.2,148.7 519.6,150.8 515.0,152.7 C510.4,154.6 507.0,156.9 501.3,158.9 C495.6,160.9 487.5,163.3 480.6,164.4 C473.7,165.5 466.8,165.7 460.0,165.3 C453.2,164.9 445.1,163.0 440.0,161.8 C434.9,160.6 434.6,160.4 429.4,158.3 C424.2,156.2 415.7,152.4 408.8,149.4 C401.9,146.4 394.3,143.0 388.1,140.4 C381.9,137.8 377.3,135.4 371.6,133.6 C365.9,131.8 359.8,130.7 353.8,129.4 C347.8,128.1 342.2,126.6 335.7,126.0 C329.2,125.4 321.9,125.1 315.0,125.6 C308.1,126.1 301.3,127.5 294.4,129.0 C287.5,130.5 278.4,131.3 273.8,134.5 C269.2,137.7 265.8,142.9 266.9,148.3 C268.0,153.7 274.9,162.5 280.6,166.8 C286.3,171.1 294.4,172.9 301.3,174.1 C308.2,175.2 312.1,174.5 321.9,173.7 C331.7,172.9 349.8,170.5 360.0,169.2 C370.2,167.9 375.5,166.2 383.3,165.9 C391.1,165.6 399.7,166.3 406.7,167.5 C413.7,168.7 419.5,170.6 425.3,173.3 C431.1,176.0 437.0,179.9 441.7,183.8 C446.4,187.7 449.8,191.8 453.3,196.7 C456.8,201.6 459.8,207.2 462.7,213.0 C465.6,218.8 468.6,225.5 470.9,231.7 C473.2,237.9 475.2,244.0 476.7,250.3 C478.2,256.6 479.5,266.2 480.1,269.4" stroke="#a06666" stroke-width="0.95" stroke-dasharray="1,1.8" fill="none"/>
<path d="M475.6,266.3 L480.1,269.4 L483.3,265.7" stroke="#a06666" stroke-width="0.95" stroke-dasharray="1,1.8" fill="none"/>
<path d="M368.8,488.2 L364.1,486.5 L362.3,490" stroke="#a06666" stroke-width="0.95" stroke-dasharray="1,1.8" fill="none"/>
<g font-family="'Liberation Sans', sans-serif" font-weight="bold" font-size="6.1" fill="#111" stroke="#111" stroke-width="0.25" text-anchor="middle">
<text transform="translate(112,133.2) scale(0.91,1)" text-anchor="middle">KITCHEN</text>
<text transform="translate(114.3,174.9) scale(0.91,1)" text-anchor="middle">WC</text>
<text transform="translate(186.9,181.4) scale(0.91,1)" text-anchor="middle">WC</text>
<text transform="translate(300.8,146.9) scale(0.91,1)" text-anchor="middle">FITTING</text>
<text transform="translate(300.8,154.2) scale(0.91,1)" text-anchor="middle">ROOMS</text>
<text transform="translate(518.6,88.2) scale(0.91,1)" text-anchor="middle">CASHDESK</text>
<text transform="translate(468.2,157.6) scale(0.91,1)" text-anchor="middle" fill="#a3202c" stroke="#a3202c">CUSTOMER’S WAY</text>
<text transform="translate(272.2,240.5) scale(0.91,1)" text-anchor="end">MANAGER’S</text>
<text transform="translate(272.2,248.2) scale(0.91,1)" text-anchor="end">ROOM</text>
<text transform="translate(276.4,323.4) scale(0.91,1)" text-anchor="middle">WELCOME-ZONE</text>
<text transform="translate(527.3,331.1) scale(0.91,1)" text-anchor="middle">LOUNGE</text>
</g>
<rect x="584.6" y="476.3" width="13.5" height="2.5" fill="#000" />
<rect x="598.1" y="479.3" width="14.0" height="2.5" fill="#000" />
<rect x="612.1" y="476.3" width="27.8" height="2.5" fill="#000" />
<rect x="639.9" y="479.3" width="27.9" height="2.5" fill="#000" />
<g font-family="'Liberation Sans', sans-serif" font-size="3" fill="#555" text-anchor="middle">
<text x="584.5" y="485.5">0</text>
<text x="598.8" y="485.5">0.5</text>
<text x="612.1" y="485.5">1</text>
<text x="639.9" y="485.5">2</text>
<text x="667.8" y="485.5">4</text>
</g>
</svg>
</body></html>
